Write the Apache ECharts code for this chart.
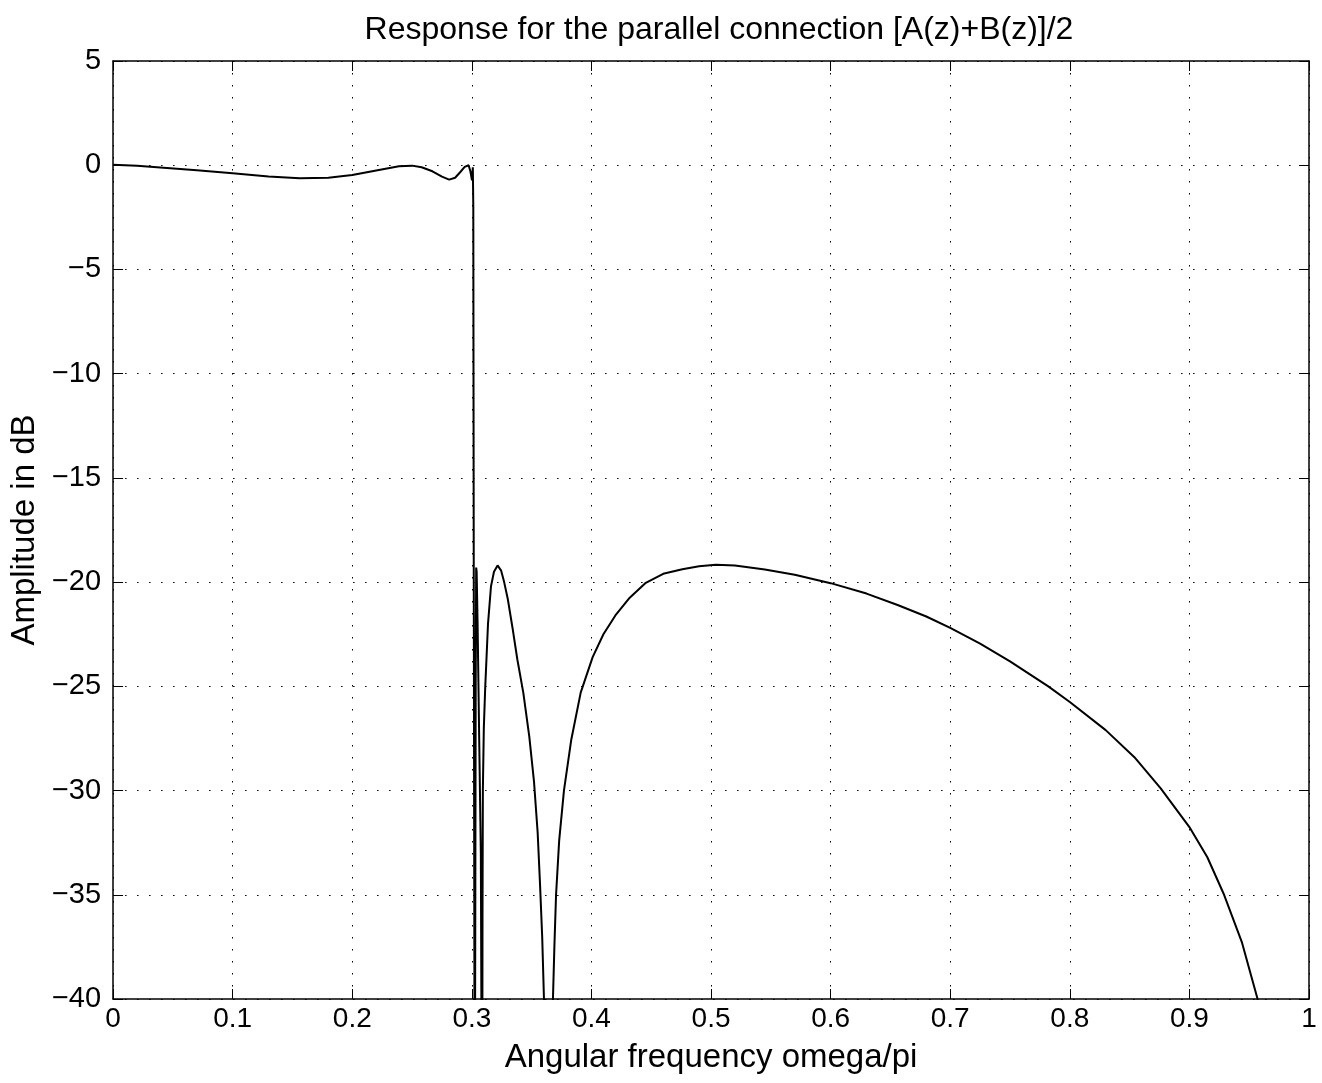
<!DOCTYPE html>
<html>
<head>
<meta charset="utf-8">
<script src="https://cdn.jsdelivr.net/npm/echarts@6/dist/echarts.min.js"></script>
<style>
html,body{margin:0;padding:0;background:#fff;}
#chart{width:1322px;height:1083px;}
</style>
</head>
<body>
<div id="chart"></div>
<script>
// Normalised angular frequency (omega/pi)
const freq = [
  0, 0.02, 0.045, 0.07, 0.1, 0.13, 0.156, 0.18, 0.2, 0.22, 0.239, 0.25, 0.258, 0.267, 0.275, 0.281, 0.286, 0.29, 0.294, 0.2973, 0.2988, 0.3001,
  0.3008, 0.3012, 0.3016, 0.3021, 0.3024,
  0.3028, 0.3032, 0.3036, 0.304, 0.3048, 0.306, 0.3075, 0.3086,
  0.3089, 0.3092, 0.31, 0.3112, 0.3135, 0.316, 0.3185, 0.3215, 0.3245, 0.327, 0.33, 0.334, 0.338, 0.343, 0.348, 0.352, 0.355, 0.357, 0.3588, 0.3603, 0.3635,
  0.3678, 0.369, 0.3704, 0.373, 0.377, 0.383, 0.391, 0.401, 0.41, 0.42, 0.432, 0.445, 0.46, 0.476, 0.49, 0.504, 0.52, 0.545, 0.57, 0.6, 0.63, 0.656, 0.68, 0.7,
  0.725, 0.75, 0.782, 0.8, 0.83, 0.854, 0.876, 0.9, 0.915, 0.929, 0.944, 0.957, 0.962
];
// Amplitude in dB
const amplitude = [
  0.02, -0.03, -0.13, -0.24, -0.38, -0.54, -0.62, -0.6, -0.47, -0.25, -0.05, -0.02, -0.1, -0.29, -0.55, -0.69, -0.6, -0.35, -0.08, 0.0, -0.3, -0.72,
  -0.1, -2, -20, -38, -50,
  -38, -25, -19.3, -19.5, -22, -27, -33, -50,
  -36, -30, -27, -25, -22, -20.2, -19.5, -19.2, -19.45, -20, -20.8, -22.2, -23.7, -25.3, -27.4, -29.6, -32, -34.5, -37, -40, -55,
  -40, -37.5, -35, -32.4, -30, -27.6, -25.3, -23.6, -22.5, -21.6, -20.75, -20.05, -19.6, -19.38, -19.24, -19.17, -19.2, -19.4, -19.65, -20.05, -20.55, -21.1, -21.65, -22.2,
  -22.95, -23.8, -25, -25.75, -27.1, -28.4, -29.9, -31.75, -33.2, -35, -37.3, -40, -41
];
const titleText = 'Response for the parallel connection [A(z)+B(z)]/2';
const xName = 'Angular frequency omega/pi';
const yName = 'Amplitude in dB';

const FONT = '"Liberation Sans", Arial, Helvetica, sans-serif';
const chart = echarts.init(document.getElementById('chart'));
const gridDash = {color: '#000', width: 1, type: [1.5, 10.5]};
chart.setOption({
  backgroundColor: '#fff',
  animation: false,
  title: {
    text: titleText, left: 714, top: 9, textAlign: 'center',
    textStyle: {fontFamily: FONT, fontSize: 32, fontWeight: 'normal', color: '#000'}
  },
  grid: {left: 110, right: 13, top: 61, bottom: 84},
  xAxis: [{
    type: 'value', min: 0, max: 1, interval: 0.1,
    name: xName, nameLocation: 'middle', nameGap: 42,
    nameTextStyle: {fontFamily: FONT, fontSize: 33, color: '#000'},
    axisLine: {onZero: false, lineStyle: {color: '#000', width: 1.5}},
    axisTick: {inside: true, length: 10, lineStyle: {color: '#000'}},
    axisLabel: {fontFamily: FONT, fontSize: 28, color: '#000', margin: 6},
    splitLine: {show: true, lineStyle: gridDash}
  }, {
    type: 'value', min: 0, max: 1, interval: 0.1, position: 'top',
    axisLine: {onZero: false, lineStyle: {color: '#000', width: 1.5}},
    axisTick: {inside: true, length: 10, lineStyle: {color: '#000'}},
    axisLabel: {show: false}, splitLine: {show: false}
  }],
  yAxis: [{
    type: 'value', min: -40, max: 5, interval: 5,
    name: yName, nameLocation: 'middle', nameGap: 66, nameRotate: 90,
    nameTextStyle: {fontFamily: FONT, fontSize: 33, color: '#000'},
    axisLine: {onZero: false, lineStyle: {color: '#000', width: 1.5}},
    axisTick: {inside: true, length: 10, lineStyle: {color: '#000'}},
    axisLabel: {fontFamily: FONT, fontSize: 29, color: '#000', margin: 12,
      formatter: v => String(v).replace('-', '\u2212')},
    splitLine: {show: true, lineStyle: gridDash}
  }, {
    type: 'value', min: -40, max: 5, interval: 5, position: 'right',
    axisLine: {onZero: false, lineStyle: {color: '#000', width: 1.5}},
    axisTick: {inside: true, length: 10, lineStyle: {color: '#000'}},
    axisLabel: {show: false}, splitLine: {show: false}
  }],
  series: [{
    type: 'line',
    data: freq.map((f, i) => [f, amplitude[i]]),
    showSymbol: false, symbol: 'none', clip: true,
    lineStyle: {color: '#000', width: 2},
    xAxisIndex: 0, yAxisIndex: 0
  }]
});
</script>
</body>
</html>
